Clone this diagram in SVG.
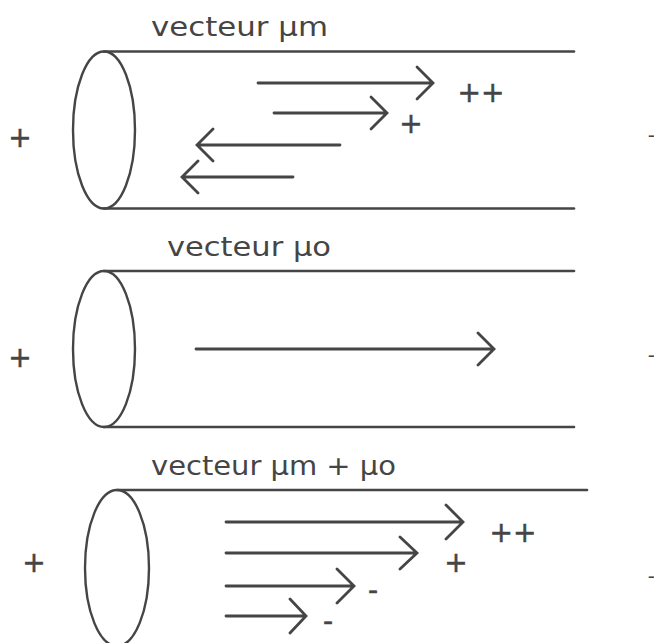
<svg xmlns="http://www.w3.org/2000/svg" width="654" height="643" viewBox="0 0 654 643">
<style>
.ln{stroke:#454545;stroke-width:2.6;fill:none;stroke-linecap:round}
.el{stroke:#454545;stroke-width:2.4;fill:none}
.ar{stroke:#454545;stroke-width:2.8;fill:none;stroke-linecap:round;stroke-linejoin:miter}
.lab{font-family:"DejaVu Sans","Liberation Sans",sans-serif;font-size:26px;fill:#454545}
.sg{font-family:"DejaVu Sans","Liberation Sans",sans-serif;font-size:28px;fill:#454545;stroke:#454545;stroke-width:0.5;text-anchor:middle}
.rt{font-family:"DejaVu Sans","Liberation Sans",sans-serif;font-size:20px;fill:#454545;text-anchor:end}
</style>
<rect width="654" height="643" fill="#ffffff"/>

<g id="panel1">
  <ellipse class="el" cx="104" cy="130" rx="31" ry="78.5"/>
  <line class="ln" x1="104" y1="51.5" x2="574" y2="51.5"/>
  <line class="ln" x1="104" y1="208.5" x2="574" y2="208.5"/>
  <text class="lab" x="151" y="36" textLength="177" lengthAdjust="spacingAndGlyphs">vecteur µm</text>
  <text class="sg" x="20" y="147">+</text>
  <text class="sg" x="481" y="102">++</text>
  <text class="sg" x="411" y="133">+</text>
  <text class="rt" x="655" y="142">-</text>
</g>

<g id="panel2">
  <ellipse class="el" cx="104" cy="349" rx="31" ry="78"/>
  <line class="ln" x1="104" y1="271" x2="574" y2="271"/>
  <line class="ln" x1="104" y1="427" x2="574" y2="427"/>
  <text class="lab" x="167" y="256" textLength="164" lengthAdjust="spacingAndGlyphs">vecteur µo</text>
  <text class="sg" x="20" y="367">+</text>
  <text class="rt" x="655" y="362">-</text>
</g>

<g id="panel3">
  <ellipse class="el" cx="117" cy="568" rx="32" ry="78"/>
  <line class="ln" x1="117" y1="490" x2="587" y2="490"/>
  <text class="lab" x="151" y="475" textLength="245" lengthAdjust="spacingAndGlyphs">vecteur µm + µo</text>
  <text class="sg" x="34" y="572">+</text>
  <text class="sg" x="513" y="542">++</text>
  <text class="sg" x="456" y="572">+</text>
  <text class="sg" x="373" y="600">-</text>
  <text class="sg" x="328" y="631">-</text>
  <text class="rt" x="655" y="583">-</text>
</g>

<g id="connectors">
  <!-- panel 1 -->
  <path class="ar" d="M258 83 H432 M417 67 L433 83 L417 99"/>
  <path class="ar" d="M274 113 H386 M371 97 L387 113 L371 129"/>
  <path class="ar" d="M340 145 H198 M213 129 L197 145 L213 161"/>
  <path class="ar" d="M293 177 H183 M198 161 L182 177 L198 193"/>
  <!-- panel 2 -->
  <path class="ar" d="M196 349 H493 M478 333 L494 349 L478 365"/>
  <!-- panel 3 -->
  <path class="ar" d="M226 522 H462 M446 505 L463 522 L446 539"/>
  <path class="ar" d="M226 553 H416 M400 537 L417 553 L400 569"/>
  <path class="ar" d="M226 586 H353 M337 569 L354 586 L337 603"/>
  <path class="ar" d="M226 616 H305 M290 599 L306 616 L290 633"/>
</g>
</svg>
